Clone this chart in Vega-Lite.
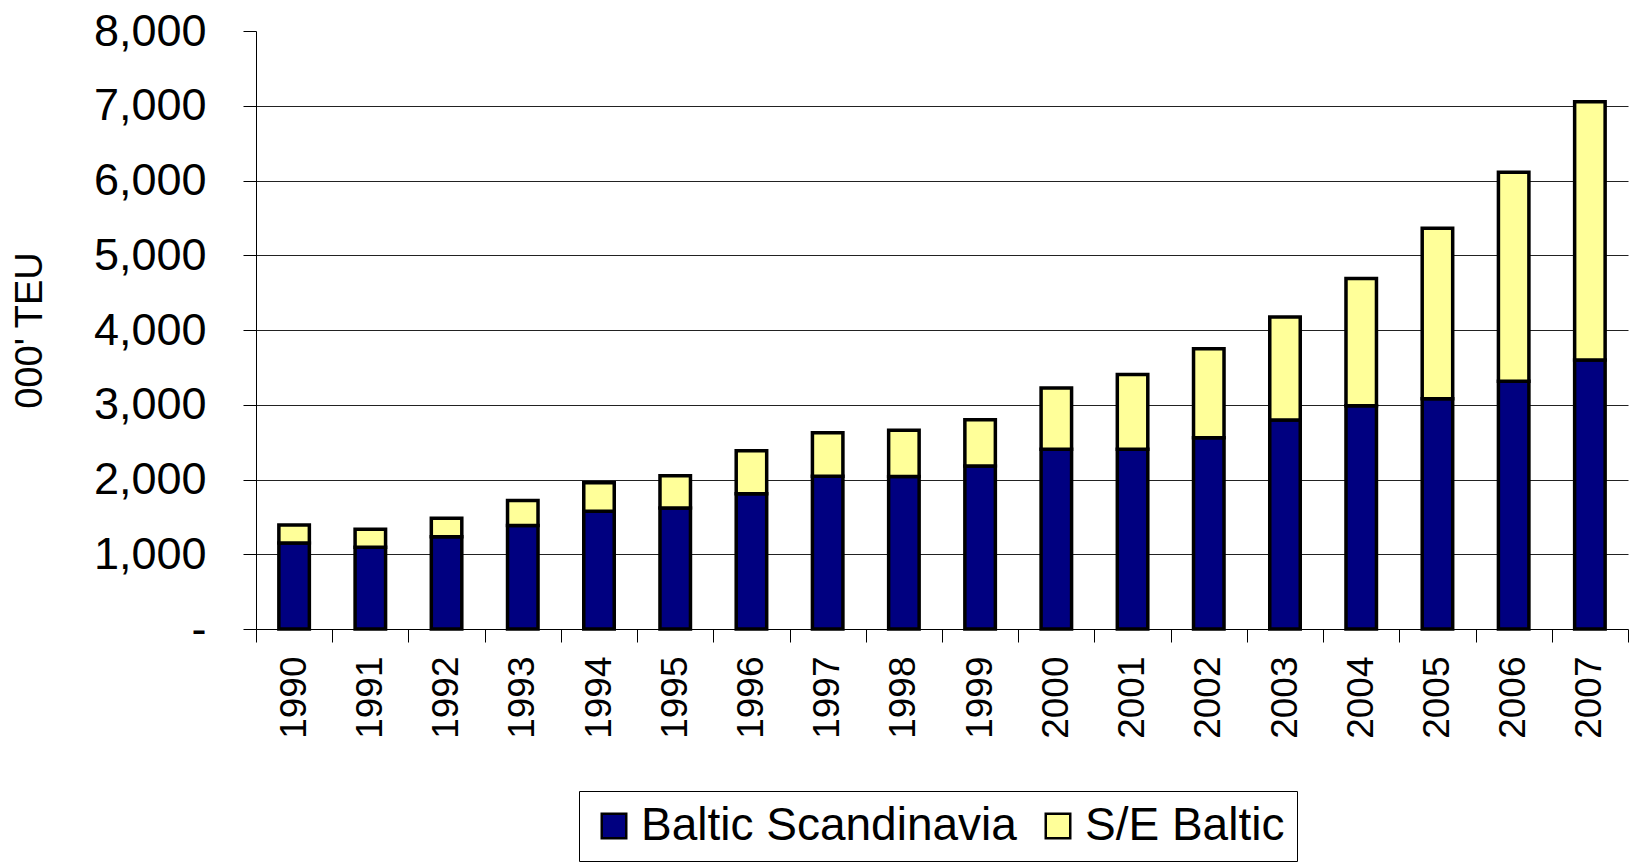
{
  "$schema": "https://vega.github.io/schema/vega-lite/v6.json",
  "autosize": {"type": "none"},
  "padding": {"left": 256, "top": 31, "right": 3, "bottom": 238},
  "width": 1372,
  "height": 598,
  "background": "white",
  "config": {
    "font": "Liberation Sans",
    "view": {"stroke": null},
    "axis": {"labelColor": "black", "titleColor": "black", "labelFont": "Liberation Sans", "titleFont": "Liberation Sans", "titleFontWeight": "normal"}
  },
  "data": {
    "values": [
      {"year": "1990", "region": "Baltic Scandinavia", "teu": 1150, "ord": 1},
      {"year": "1990", "region": "S/E Baltic", "teu": 240, "ord": 2},
      {"year": "1991", "region": "Baltic Scandinavia", "teu": 1095, "ord": 1},
      {"year": "1991", "region": "S/E Baltic", "teu": 240, "ord": 2},
      {"year": "1992", "region": "Baltic Scandinavia", "teu": 1235, "ord": 1},
      {"year": "1992", "region": "S/E Baltic", "teu": 245, "ord": 2},
      {"year": "1993", "region": "Baltic Scandinavia", "teu": 1385, "ord": 1},
      {"year": "1993", "region": "S/E Baltic", "teu": 335, "ord": 2},
      {"year": "1994", "region": "Baltic Scandinavia", "teu": 1575, "ord": 1},
      {"year": "1994", "region": "S/E Baltic", "teu": 380, "ord": 2},
      {"year": "1995", "region": "Baltic Scandinavia", "teu": 1620, "ord": 1},
      {"year": "1995", "region": "S/E Baltic", "teu": 430, "ord": 2},
      {"year": "1996", "region": "Baltic Scandinavia", "teu": 1810, "ord": 1},
      {"year": "1996", "region": "S/E Baltic", "teu": 575, "ord": 2},
      {"year": "1997", "region": "Baltic Scandinavia", "teu": 2045, "ord": 1},
      {"year": "1997", "region": "S/E Baltic", "teu": 580, "ord": 2},
      {"year": "1998", "region": "Baltic Scandinavia", "teu": 2040, "ord": 1},
      {"year": "1998", "region": "S/E Baltic", "teu": 620, "ord": 2},
      {"year": "1999", "region": "Baltic Scandinavia", "teu": 2180, "ord": 1},
      {"year": "1999", "region": "S/E Baltic", "teu": 620, "ord": 2},
      {"year": "2000", "region": "Baltic Scandinavia", "teu": 2405, "ord": 1},
      {"year": "2000", "region": "S/E Baltic", "teu": 820, "ord": 2},
      {"year": "2001", "region": "Baltic Scandinavia", "teu": 2405, "ord": 1},
      {"year": "2001", "region": "S/E Baltic", "teu": 1000, "ord": 2},
      {"year": "2002", "region": "Baltic Scandinavia", "teu": 2560, "ord": 1},
      {"year": "2002", "region": "S/E Baltic", "teu": 1190, "ord": 2},
      {"year": "2003", "region": "Baltic Scandinavia", "teu": 2795, "ord": 1},
      {"year": "2003", "region": "S/E Baltic", "teu": 1380, "ord": 2},
      {"year": "2004", "region": "Baltic Scandinavia", "teu": 2985, "ord": 1},
      {"year": "2004", "region": "S/E Baltic", "teu": 1705, "ord": 2},
      {"year": "2005", "region": "Baltic Scandinavia", "teu": 3080, "ord": 1},
      {"year": "2005", "region": "S/E Baltic", "teu": 2280, "ord": 2},
      {"year": "2006", "region": "Baltic Scandinavia", "teu": 3315, "ord": 1},
      {"year": "2006", "region": "S/E Baltic", "teu": 2795, "ord": 2},
      {"year": "2007", "region": "Baltic Scandinavia", "teu": 3600, "ord": 1},
      {"year": "2007", "region": "S/E Baltic", "teu": 3455, "ord": 2}
    ]
  },
  "mark": {"type": "bar", "width": {"band": 0.4}, "stroke": "black", "strokeWidth": 3.5, "strokeJoin": "miter"},
  "encoding": {
    "x": {
      "field": "year", "type": "ordinal",
      "scale": {"paddingInner": 0, "paddingOuter": 0},
      "axis": {
        "title": null, "labelAngle": 270, "labelFontSize": 37, "labelPadding": 14,
        "tickBand": "extent", "tickSize": 13, "tickColor": "black", "domainColor": "black", "domainWidth": 1, "tickWidth": 1
      }
    },
    "y": {
      "field": "teu", "type": "quantitative", "stack": "zero",
      "scale": {"domain": [0, 8000], "nice": false},
      "axis": {
        "title": "000' TEU", "titleFontSize": 38, "titlePadding": 44,
        "values": [0, 1000, 2000, 3000, 4000, 5000, 6000, 7000, 8000],
        "labelExpr": "datum.value == 0 ? '-\u00a0\u00a0\u00a0\u00a0' : format(datum.value, ',')",
        "labelFontSize": 45, "labelPadding": 37,
        "tickSize": 13, "tickColor": "black", "domainColor": "black", "domainWidth": 1,
        "grid": true, "gridColor": "#222222", "gridWidth": 1,
        "gridOpacity": {"condition": {"test": "datum.value == 8000 || datum.value == 0", "value": 0}, "value": 1}
      }
    },
    "color": {
      "field": "region", "type": "nominal",
      "scale": {"domain": ["Baltic Scandinavia", "S/E Baltic"], "range": ["#000080", "#FFFF99"]},
      "legend": {
        "title": null, "orient": "none", "direction": "horizontal", "legendX": 323, "legendY": 760,
        "labelFontSize": 46, "labelFont": "Liberation Sans", "labelColor": "black", "labelLimit": 1000,
        "symbolType": "square", "symbolSize": 600, "symbolStrokeColor": "black", "symbolStrokeWidth": 2.5,
        "labelOffset": 4, "columnPadding": 18, "padding": 12,
        "strokeColor": "black", "fillColor": "white"
      }
    },
    "order": {"field": "ord", "type": "quantitative"}
  }
}
